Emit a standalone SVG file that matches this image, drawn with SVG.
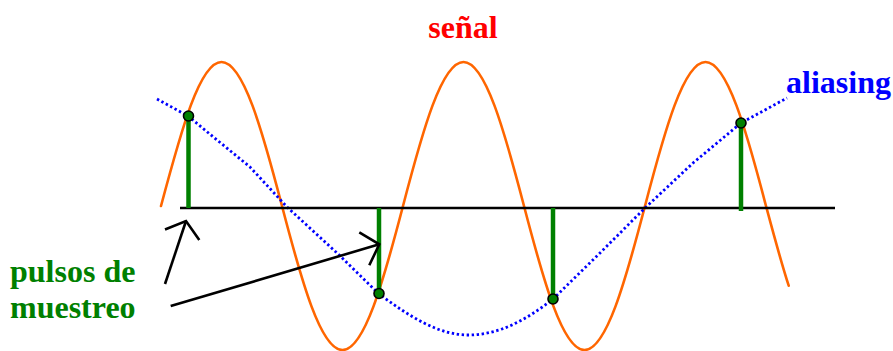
<svg xmlns="http://www.w3.org/2000/svg" width="893" height="351" viewBox="0 0 893 351">
  <style>
    .lbl { font-family: "Liberation Serif", "Times New Roman", serif; font-weight: bold; font-size: 32px; }
    .signal { fill: none; stroke: #FF6600; stroke-width: 2.6; stroke-linejoin: round; stroke-linecap: round; }
    .alias { fill: none; stroke: #0000FF; stroke-width: 2.8; stroke-dasharray: 2.4 2.6; }
    .axis { stroke: #000; stroke-width: 2.6; }
    .stem { stroke: #008000; stroke-width: 4.5; }
    .dot { fill: #008000; stroke: #000; stroke-width: 1.6; }
    .arrow { fill: none; stroke: #000; stroke-width: 2.6; stroke-linejoin: miter; }
  </style>
  <rect width="893" height="351" fill="#fff"/>
  <g id="signal">
    <path class="signal" d="M161,206 C181.2,130.4 199.8,62 221.5,62 S262.3,130.4 282,206 S320.8,350 342.5,350 S383.3,281.6 403,206 S441.8,62 463.5,62 S504.3,130.4 524,206 S562.8,350 584.5,350 S625.3,281.6 645,206 S683.8,62 705.5,62 S746.3,130.4 766,206 C773.7,234.7 781.1,262.4 788.7,285.7"/>
  </g>
  <g id="aliasing-curve">
    <path class="alias" d="M157,99 L188,116 L217,140 L250,167 L287,207 L337,253 L379,294 C409,316 438,335 468,335 C498,335 525,321 553,299 L600,253 L645,208 L693,163 L741,123 L787,98"/>
  </g>
  <g id="axis">
    <line class="axis" x1="180" y1="208" x2="835" y2="208"/>
  </g>
  <g id="samples">
    <line class="stem" x1="188.5" y1="116" x2="188.5" y2="208"/>
    <line class="stem" x1="379" y1="208" x2="379" y2="293"/>
    <line class="stem" x1="553" y1="208" x2="553" y2="299"/>
    <line class="stem" x1="741" y1="123" x2="741" y2="211"/>
    <circle class="dot" cx="188.5" cy="116" r="5"/>
    <circle class="dot" cx="379" cy="293.5" r="5"/>
    <circle class="dot" cx="553" cy="299" r="5"/>
    <circle class="dot" cx="741" cy="123" r="5"/>
  </g>
  <g id="connectors">
    <line class="arrow" x1="165" y1="284" x2="186" y2="221"/>
    <polyline class="arrow" points="165,229.5 186,221 199.3,240"/>
    <line class="arrow" x1="170.7" y1="306" x2="379.3" y2="244.3"/>
    <polyline class="arrow" points="359.3,232.3 379.3,244.3 369.3,265.3"/>
  </g>
  <g id="label-senal">
    <text class="lbl" x="463" y="38" text-anchor="middle" fill="#FF0000">señal</text>
  </g>
  <g id="label-aliasing">
    <text class="lbl" x="786" y="93" fill="#0000FF">aliasing</text>
  </g>
  <g id="label-pulsos">
    <text class="lbl" x="10" y="282" fill="#008000">pulsos de</text>
    <text class="lbl" x="10" y="318" fill="#008000">muestreo</text>
  </g>
</svg>
